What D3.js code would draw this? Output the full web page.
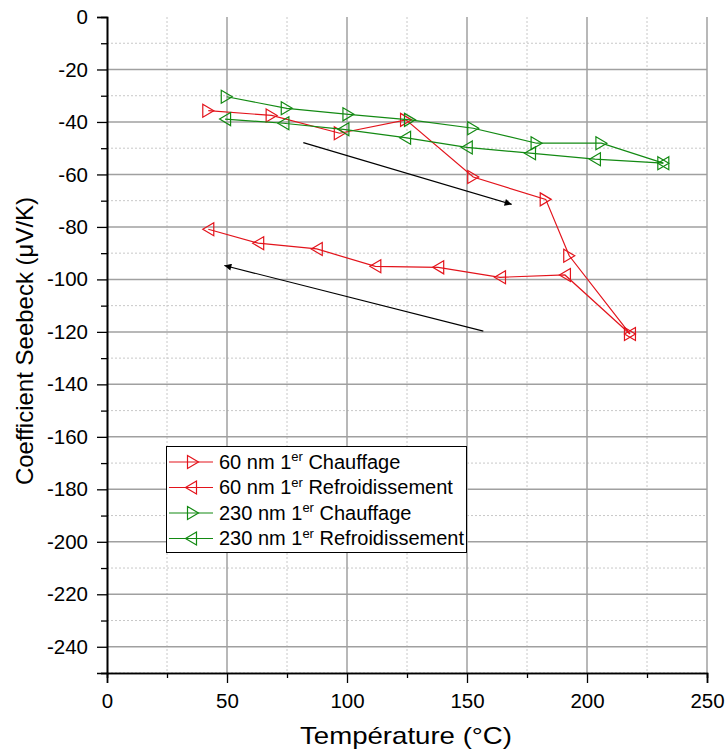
<!DOCTYPE html>
<html><head><meta charset="utf-8">
<script src="https://cdn.jsdelivr.net/npm/d3@7"></script>
<style>
html,body{margin:0;padding:0;background:#fff;}
text{font-family:"Liberation Sans",Arial,sans-serif;fill:#000;}
</style></head>
<body>
<svg id="chart" width="728" height="753"></svg>
<script>
// ---- data ----
const heat60X = [42.2, 68.6, 97, 124.6, 152.6, 182.8, 192.6, 217.9];
const heat60Y = [-35.7, -37.5, -44.3, -39.2, -61, -69.5, -91, -120.8];
const cool60X = [217.9, 190.8, 163.75, 138, 111.8, 87.4, 63, 42.2];
const cool60Y = [-120.8, -98.3, -99.2, -95.4, -95, -88.4, -86.2, -80.9];
const heat230X = [49.9, 74.9, 100.6, 126.25, 152.6, 179, 206, 231.8];
const heat230Y = [-30.4, -34.8, -37.1, -39.2, -42.4, -48.1, -48.1, -55.7];
const cool230X = [231.8, 203.3, 176.25, 149.9, 124.2, 98.5, 73.5, 49.2];
const cool230Y = [-55.7, -54.2, -51.9, -49.7, -46, -42.8, -40.5, -38.9];
const arrowStartX = [81.8, 156.8];
const arrowStartY = [-47.9, -119.7];
const arrowEndX = [168.6, 48.9];
const arrowEndY = [-71.4, -94.7];
const xTicks = [0, 50, 100, 150, 200, 250];
const yTicks = [0, -20, -40, -60, -80, -100, -120, -140, -160, -180, -200, -220, -240];
const seriesNames = ["60 nm 1", "60 nm 1", "230 nm 1", "230 nm 1"];
const seriesSuffix = [" Chauffage", " Refroidissement", " Chauffage", " Refroidissement"];

const RED = "#e3141c", GREEN = "#138a13";
const series = [
  {x: heat60X, y: heat60Y, color: RED, dir: "right"},
  {x: cool60X, y: cool60Y, color: RED, dir: "left"},
  {x: heat230X, y: heat230Y, color: GREEN, dir: "right"},
  {x: cool230X, y: cool230Y, color: GREEN, dir: "left"}
];

const svg = d3.select("#chart");
const L = 107, R = 707, T = 17, B = 673;
const x = d3.scaleLinear().domain([0, 250]).range([L, R]);
const y = d3.scaleLinear().domain([-250, 0]).range([B, T]);

// grid
const g = svg.append("g");
d3.range(25, 250, 50).forEach(v => g.append("line").attr("x1", x(v)).attr("x2", x(v)).attr("y1", T).attr("y2", B)
  .attr("stroke", "#c8c8c8").attr("stroke-dasharray", "2,2").attr("stroke-width", 1));
d3.range(-250, 0, 20).forEach(v => g.append("line").attr("x1", L).attr("x2", R).attr("y1", y(v)).attr("y2", y(v))
  .attr("stroke", "#c8c8c8").attr("stroke-dasharray", "2,2").attr("stroke-width", 1));
d3.range(50, 251, 50).forEach(v => g.append("line").attr("x1", x(v)).attr("x2", x(v)).attr("y1", T).attr("y2", B)
  .attr("stroke", "#a0a0a0").attr("stroke-width", 1.5));
d3.range(-240, 0, 20).forEach(v => g.append("line").attr("x1", L).attr("x2", R).attr("y1", y(v)).attr("y2", y(v))
  .attr("stroke", "#a0a0a0").attr("stroke-width", 1.5));

// axes
const xAxis = d3.axisBottom(x).tickValues(xTicks).tickSize(10).tickPadding(10).tickFormat(d3.format("d"));
const xMinor = d3.axisBottom(x).tickValues(d3.range(25, 250, 50)).tickSize(5).tickFormat("");
const yAxis = d3.axisLeft(y).tickValues(yTicks).tickSize(10).tickPadding(9).tickFormat(d => d);
const yMinor = d3.axisLeft(y).tickValues(d3.range(-250, 0, 20)).tickSize(6).tickFormat("");
function styleAxis(sel) {
  sel.selectAll("path").attr("stroke", "#000").attr("stroke-width", 1.6);
  sel.selectAll("line").attr("stroke", "#000").attr("stroke-width", 1.3);
  sel.selectAll("text").attr("font-size", 20.5);
}
svg.append("g").attr("transform", `translate(0,${B})`).call(xMinor).call(styleAxis);
svg.append("g").attr("transform", `translate(0,${B})`).call(xAxis).call(styleAxis);
svg.append("g").attr("transform", `translate(${L},0)`).call(yMinor).call(styleAxis);
svg.append("g").attr("transform", `translate(${L},0)`).call(yAxis).call(styleAxis);

// titles
svg.append("text").attr("x", 406).attr("y", 744).attr("text-anchor", "middle").attr("font-size", 24)
  .attr("textLength", 212).attr("lengthAdjust", "spacingAndGlyphs").text("Température (°C)");
svg.append("text").attr("transform", "translate(33,341) rotate(-90)").attr("text-anchor", "middle").attr("font-size", 24)
  .text("Coefficient Seebeck (μV/K)");

// marker path
function tri(dir) {
  const w = 11, h = 13;
  if (dir === "right") return `M${-w/2},${-h/2}L${w/2},0L${-w/2},${h/2}Z`;
  return `M${w/2},${-h/2}L${-w/2},0L${w/2},${h/2}Z`;
}

const line = d3.line().x(d => x(d[0])).y(d => y(d[1]));
series.forEach(s => {
  const pts = s.x.map((v, i) => [v, s.y[i]]);
  svg.append("path").attr("d", line(pts)).attr("fill", "none").attr("stroke", s.color).attr("stroke-width", 1.2);
  svg.selectAll(null).data(pts).enter().append("path")
    .attr("transform", d => `translate(${x(d[0])},${y(d[1])})`)
    .attr("d", tri(s.dir)).attr("fill", "none").attr("stroke", s.color).attr("stroke-width", 1.2);
});

// arrows
svg.append("defs").append("marker").attr("id", "ah").attr("viewBox", "0 0 10 10").attr("refX", 10).attr("refY", 5)
  .attr("markerWidth", 13).attr("markerHeight", 7).attr("markerUnits", "userSpaceOnUse").attr("orient", "auto")
  .append("path").attr("d", "M0,0L10,5L0,10Z").attr("fill", "#000");
arrowStartX.forEach((v, i) => {
  svg.append("line").attr("x1", x(v)).attr("y1", y(arrowStartY[i])).attr("x2", x(arrowEndX[i])).attr("y2", y(arrowEndY[i]))
    .attr("stroke", "#000").attr("stroke-width", 1.2).attr("marker-end", "url(#ah)");
});

// legend
const lg = svg.append("g");
lg.append("rect").attr("x", 166.5).attr("y", 446.5).attr("width", 300).attr("height", 106)
  .attr("fill", "#fff").attr("stroke", "#000").attr("stroke-width", 1);
series.forEach((s, i) => {
  const yy = 462 + i * 25.5;
  lg.append("line").attr("x1", 169).attr("x2", 213).attr("y1", yy).attr("y2", yy).attr("stroke", s.color).attr("stroke-width", 1.2);
  lg.append("path").attr("transform", `translate(${s.dir === "right" ? 193 : 191},${yy})`).attr("d", tri(s.dir)).attr("fill", "none").attr("stroke", s.color).attr("stroke-width", 1.2);
  const t = lg.append("text").attr("x", 219).attr("y", yy + 6.6).attr("font-size", 20);
  t.append("tspan").text(seriesNames[i]);
  t.append("tspan").attr("dy", -7.5).attr("font-size", 13).text("er");
  t.append("tspan").attr("dy", 7.5).text(seriesSuffix[i]);
});
</script>
</body></html>
